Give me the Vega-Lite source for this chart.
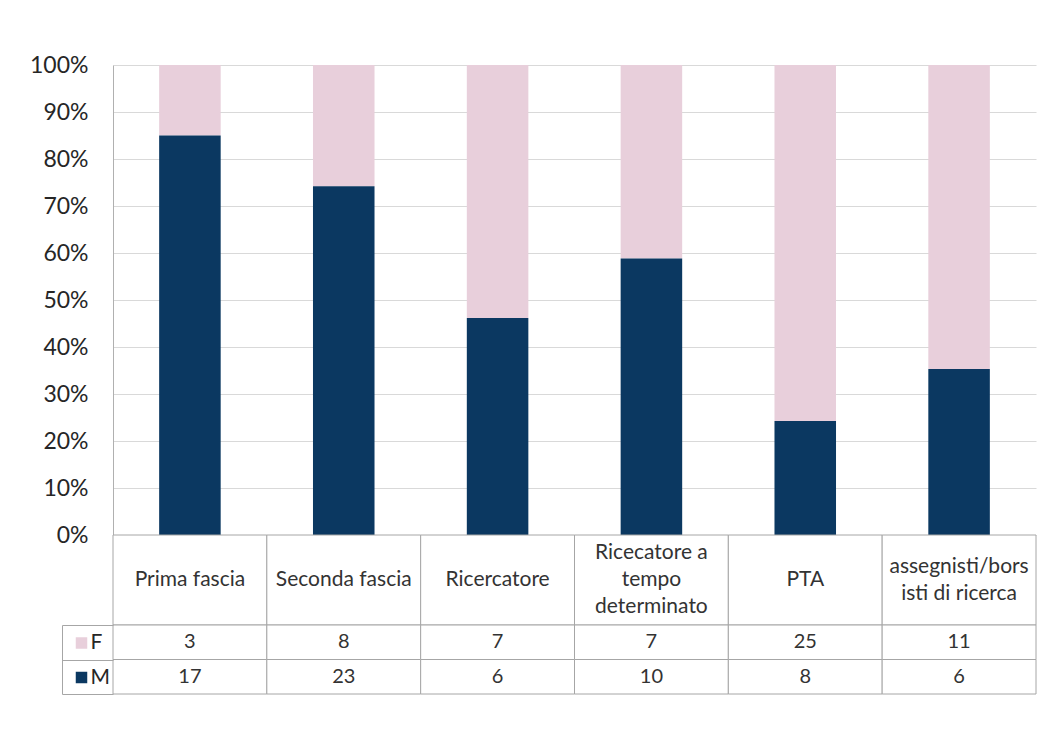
{
  "$schema": "https://vega.github.io/schema/vega-lite/v6.json",
  "background": "white",
  "padding": {"left": 29, "top": 54, "right": 0, "bottom": 0},
  "spacing": 0,
  "bounds": "flush",
  "config": {"font": "Lato", "view": {"stroke": null}, "concat": {"spacing": 0}},
  "datasets": {
    "counts": [
      {"cat": "Prima fascia", "sex": "F", "n": 3},
      {"cat": "Prima fascia", "sex": "M", "n": 17},
      {"cat": "Seconda fascia", "sex": "F", "n": 8},
      {"cat": "Seconda fascia", "sex": "M", "n": 23},
      {"cat": "Ricercatore", "sex": "F", "n": 7},
      {"cat": "Ricercatore", "sex": "M", "n": 6},
      {"cat": "Ricecatore a tempo determinato", "sex": "F", "n": 7},
      {"cat": "Ricecatore a tempo determinato", "sex": "M", "n": 10},
      {"cat": "PTA", "sex": "F", "n": 25},
      {"cat": "PTA", "sex": "M", "n": 8},
      {"cat": "assegnisti/borsisti di ricerca", "sex": "F", "n": 11},
      {"cat": "assegnisti/borsisti di ricerca", "sex": "M", "n": 6}
    ],
    "cats": [
      {"cat": "Prima fascia", "label": "Prima fascia"},
      {"cat": "Seconda fascia", "label": "Seconda fascia"},
      {"cat": "Ricercatore", "label": "Ricercatore"},
      {"cat": "Ricecatore a tempo determinato", "label": "Ricecatore a\ntempo\ndeterminato"},
      {"cat": "PTA", "label": "PTA"},
      {"cat": "assegnisti/borsisti di ricerca", "label": "assegnisti/bors\nisti di ricerca"}
    ]
  },
  "resolve": {"scale": {"color": "independent"}, "legend": {"color": "independent"}},
  "vconcat": [
    {
      "width": 923,
      "height": 470,
      "data": {"name": "counts"},
      "mark": {"type": "bar", "width": {"band": 0.4}},
      "encoding": {
        "x": {"field": "cat", "type": "nominal", "sort": null,
          "scale": {"domain": ["Prima fascia", "Seconda fascia", "Ricercatore", "Ricecatore a tempo determinato", "PTA", "assegnisti/borsisti di ricerca"], "paddingInner": 0, "paddingOuter": 0},
          "axis": null},
        "y": {"field": "n", "type": "quantitative", "stack": "normalize",
          "scale": {"domain": [0, 1]},
          "axis": {"format": ".0%", "values": [0, 0.1, 0.2, 0.3, 0.4, 0.5, 0.6, 0.7, 0.8, 0.9, 1], "title": null, "grid": true, "gridColor": "#d9d9d9", "domainColor": "#b0b0b0", "ticks": false, "tickSize": 0, "labelPadding": 25, "labelFontSize": 23, "labelColor": "#262626", "labelFont": "Lato"}},
        "color": {"field": "sex", "type": "nominal", "scale": {"domain": ["F", "M"], "range": ["#e8cfdb", "#0b3861"]}, "legend": null},
        "order": {"field": "sex", "sort": "descending"}
      }
    },
    {
      "width": 923,
      "height": 90,
      "data": {"name": "cats"},
      "encoding": {
        "x": {"field": "cat", "type": "nominal", "sort": null,
          "scale": {"domain": ["Prima fascia", "Seconda fascia", "Ricercatore", "Ricecatore a tempo determinato", "PTA", "assegnisti/borsisti di ricerca"], "paddingInner": 0, "paddingOuter": 0},
          "axis": null}
      },
      "layer": [
        {"mark": {"type": "rect", "fill": "white", "stroke": "#a6a6a6", "strokeWidth": 1}},
        {"transform": [{"filter": {"field": "cat", "oneOf": ["Prima fascia", "Seconda fascia", "Ricercatore", "PTA"]}}],
         "mark": {"type": "text", "fontSize": 21, "lineBreak": "\n", "lineHeight": 27, "color": "#333333", "baseline": "middle", "font": "Lato"},
         "encoding": {"text": {"field": "label"}}},
        {"transform": [{"filter": {"field": "cat", "oneOf": ["assegnisti/borsisti di ricerca"]}}],
         "mark": {"type": "text", "fontSize": 21, "lineBreak": "\n", "lineHeight": 27, "dy": -13.5, "color": "#333333", "baseline": "middle", "font": "Lato"},
         "encoding": {"text": {"field": "label"}}},
        {"transform": [{"filter": {"field": "cat", "oneOf": ["Ricecatore a tempo determinato"]}}],
         "mark": {"type": "text", "fontSize": 21, "lineBreak": "\n", "lineHeight": 27, "dy": -27, "color": "#333333", "baseline": "middle", "font": "Lato"},
         "encoding": {"text": {"field": "label"}}}
      ]
    },
    {
      "width": 923,
      "height": 69,
      "data": {"name": "counts"},
      "encoding": {
        "x": {"field": "cat", "type": "nominal", "sort": null,
          "scale": {"domain": ["Prima fascia", "Seconda fascia", "Ricercatore", "Ricecatore a tempo determinato", "PTA", "assegnisti/borsisti di ricerca"], "paddingInner": 0, "paddingOuter": 0},
          "axis": null},
        "y": {"field": "sex", "type": "nominal", "sort": ["F", "M"],
          "scale": {"domain": ["F", "M"], "paddingInner": 0, "paddingOuter": 0},
          "axis": {"title": null, "labels": false, "offset": 51, "tickSize": -51, "tickBand": "extent", "domainColor": "#a6a6a6", "tickColor": "#a6a6a6"}}
      },
      "layer": [
        {"mark": {"type": "rect", "fill": "white", "stroke": "#a6a6a6", "strokeWidth": 1}},
        {"mark": {"type": "text", "fontSize": 20, "color": "#333333", "font": "Lato"},
         "encoding": {"text": {"field": "n", "type": "quantitative"}}},
        {"mark": {"type": "square", "opacity": 0},
         "encoding": {"color": {"field": "sex", "type": "nominal",
           "scale": {"domain": ["F", "M"], "range": ["#e8cfdb", "#0b3861"]},
           "legend": {"orient": "none", "legendX": -42, "legendY": 7.5, "title": null, "symbolType": "square", "symbolSize": 132, "symbolOpacity": 1, "symbolStrokeWidth": 0, "labelFontSize": 21, "labelColor": "#262626", "labelFont": "Lato", "rowPadding": 12.5, "padding": 0, "labelOffset": -1.5}}}}
      ]
    }
  ]
}
